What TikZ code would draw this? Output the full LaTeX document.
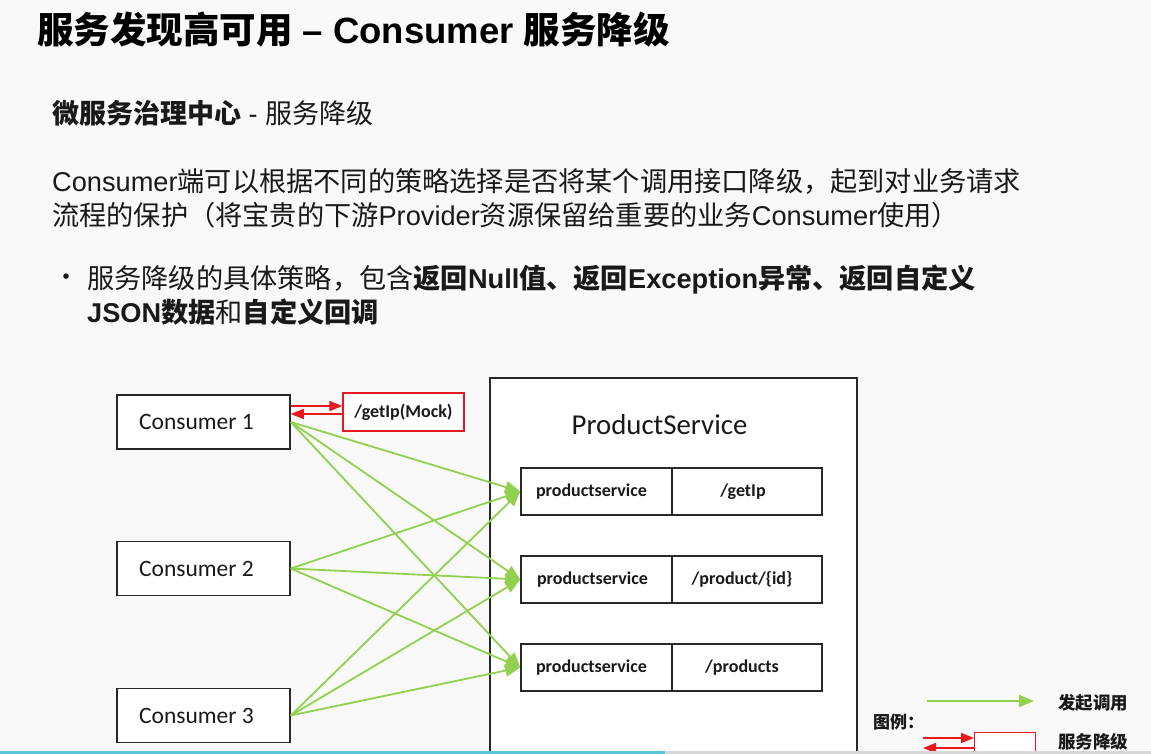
\documentclass[tikz,border=0pt]{standalone}
\usepackage{fontspec}
\setmainfont{Carlito}
\newfontfamily\cjk{Noto Sans CJK SC}
\newfontfamily\latf{Liberation Sans}
\newfontfamily\carl{Carlito}
\usetikzlibrary{arrows.meta}
\definecolor{bgc}{RGB}{249,249,249}
\definecolor{gline}{RGB}{146,208,80}
\definecolor{rline}{RGB}{232,24,32}
\definecolor{boxc}{RGB}{40,40,40}
\definecolor{txt}{RGB}{25,25,25}
\definecolor{barc}{RGB}{90,200,216}
\definecolor{barg}{RGB}{215,215,215}
\tikzset{
  txtnode/.style={anchor=west, inner sep=0pt, text=txt},
  consbox/.style={draw=boxc, line width=1.5pt, fill=white, minimum width=173pt, minimum height=54pt, inner sep=0pt, font=\carl\fontsize{23.5}{23.5}\selectfont, text=txt},
  cellbox/.style={draw=boxc, line width=1.5pt, fill=white, minimum height=47pt, inner sep=0pt, font=\carl\bfseries\fontsize{18}{18}\selectfont, text=txt},
  mockbox/.style={draw=rline, line width=1.3pt, fill=white, minimum width=121pt, minimum height=38pt, inner sep=0pt, font=\carl\bfseries\fontsize{18}{18}\selectfont, text=txt},
  garrow/.style={draw=gline, line width=1.8pt, -{Triangle[length=15pt,width=12pt]}},
  rarrow/.style={draw=rline, line width=1.6pt, -{Triangle[length=13pt,width=10pt]}},
}
\begin{document}
\begin{tikzpicture}[x=1pt,y=-1pt]
\useasboundingbox (0,0) rectangle (1151,754);
\clip (0,0) rectangle (1151,754);
\fill[bgc] (0,0) rectangle (1151,754);

% header texts
\node[txtnode, font=\cjk\bfseries\fontsize{36.5}{36.5}\selectfont, text=black] (title) at (37,30) {服务发现高可用{\latf\bfseries\ – Consumer }服务降级};
\node[txtnode, font=\cjk\fontsize{27}{27}\selectfont] (sub) at (52,113) {{\bfseries 微服务治理中心}{\latf\ - }服务降级};
\node[txtnode, font=\cjk\fontsize{27.2}{27.2}\selectfont] (p1) at (52,181) {{\latf Consumer}端可以根据不同的策略选择是否将某个调用接口降级，起到对业务请求};
\node[txtnode, font=\cjk\fontsize{27.2}{27.2}\selectfont] (p2) at (52,215) {流程的保护（将宝贵的下游{\latf Provider}资源保留给重要的业务{\latf Consumer}使用）};
\node[txtnode, font=\cjk\fontsize{26}{26}\selectfont] (bul) at (53,280) {•};
\node[txtnode, font=\cjk\fontsize{27.2}{27.2}\selectfont] (b1) at (87,280) {服务降级的具体策略，包含{\bfseries 返回{\latf\bfseries Null}值、返回{\latf\bfseries Exception}异常、返回自定义}};
\node[txtnode, font=\cjk\fontsize{27.2}{27.2}\selectfont] (b2) at (87,312) {{\bfseries {\latf\bfseries JSON}数据}和{\bfseries 自定义回调}};

% ProductService container
\node[draw=boxc, line width=1.5pt, fill=white, anchor=north west, minimum width=367pt, minimum height=400pt, inner sep=0pt] (ps) at (489,377) {};
\node[font=\carl\fontsize{28.8}{28.8}\selectfont, text=txt, inner sep=0pt] (pstitle) at (659.5,425) {ProductService};

% rows
\node[cellbox, minimum width=151pt] (r1) at (596.5,491.5) {productservice\kern10pt};
\node[cellbox, minimum width=150pt] (e1) at (747,491.5) {/getIp\kern8pt};
\node[cellbox, minimum width=151pt] (r2) at (596.5,579.5) {productservice\kern8pt};
\node[cellbox, minimum width=150pt] (e2) at (747,579.5) {/product/\{id\}\kern10pt};
\node[cellbox, minimum width=151pt] (r3) at (596.5,667.5) {productservice\kern10pt};
\node[cellbox, minimum width=150pt] (e3) at (747,667.5) {/products\kern10pt};

% consumers
\node[consbox] (c1) at (203.5,422) {Consumer 1\kern14pt};
\node[consbox] (c2) at (203.5,568.5) {Consumer 2\kern14pt};
\node[consbox] (c3) at (203.5,715.5) {Consumer 3\kern14pt};

% mock
\node[mockbox] (mock) at (403.5,412) {/getIp(Mock)};

% green calls
\foreach \c in {c1,c2,c3}{
  \foreach \r in {r1,r2,r3}{
    \draw[garrow] (\c.east) -- (\r.west);
  }
}

% red degrade arrows
\draw[rarrow] ([yshift=16pt]c1.east) -- ([yshift=16pt]c1.east -| mock.west);
\draw[rarrow] ([yshift=8pt]c1.east -| mock.west) -- ([yshift=8pt]c1.east);

% legend
\node[txtnode, font=\cjk\bfseries\fontsize{17}{17}\selectfont] (lg) at (873,722) {图例：};
\coordinate (ga) at (927,701);
\coordinate (gb) at (1034,701);
\draw[garrow] (ga) -- (gb);
\node[txtnode, font=\cjk\bfseries\fontsize{17.5}{17.5}\selectfont] (lg1) at (1058,703) {发起调用};
\node[draw=rline, line width=1.3pt, fill=white, anchor=north west, minimum width=61pt, minimum height=40pt, inner sep=0pt] (lbox) at (974,732) {};
\coordinate (ra) at (923,738);
\coordinate (rb) at (923,748);
\draw[rarrow] (ra) -- (ra -| lbox.west);
\draw[rarrow] (rb -| lbox.west) -- (rb);
\node[txtnode, font=\cjk\bfseries\fontsize{17.5}{17.5}\selectfont] (lg2) at (1058,742) {服务降级};

% video progress bar
\fill[barg] (665,751) rectangle (1151,754);
\fill[barc] (0,751) rectangle (665,754);
\end{tikzpicture}
\end{document}
